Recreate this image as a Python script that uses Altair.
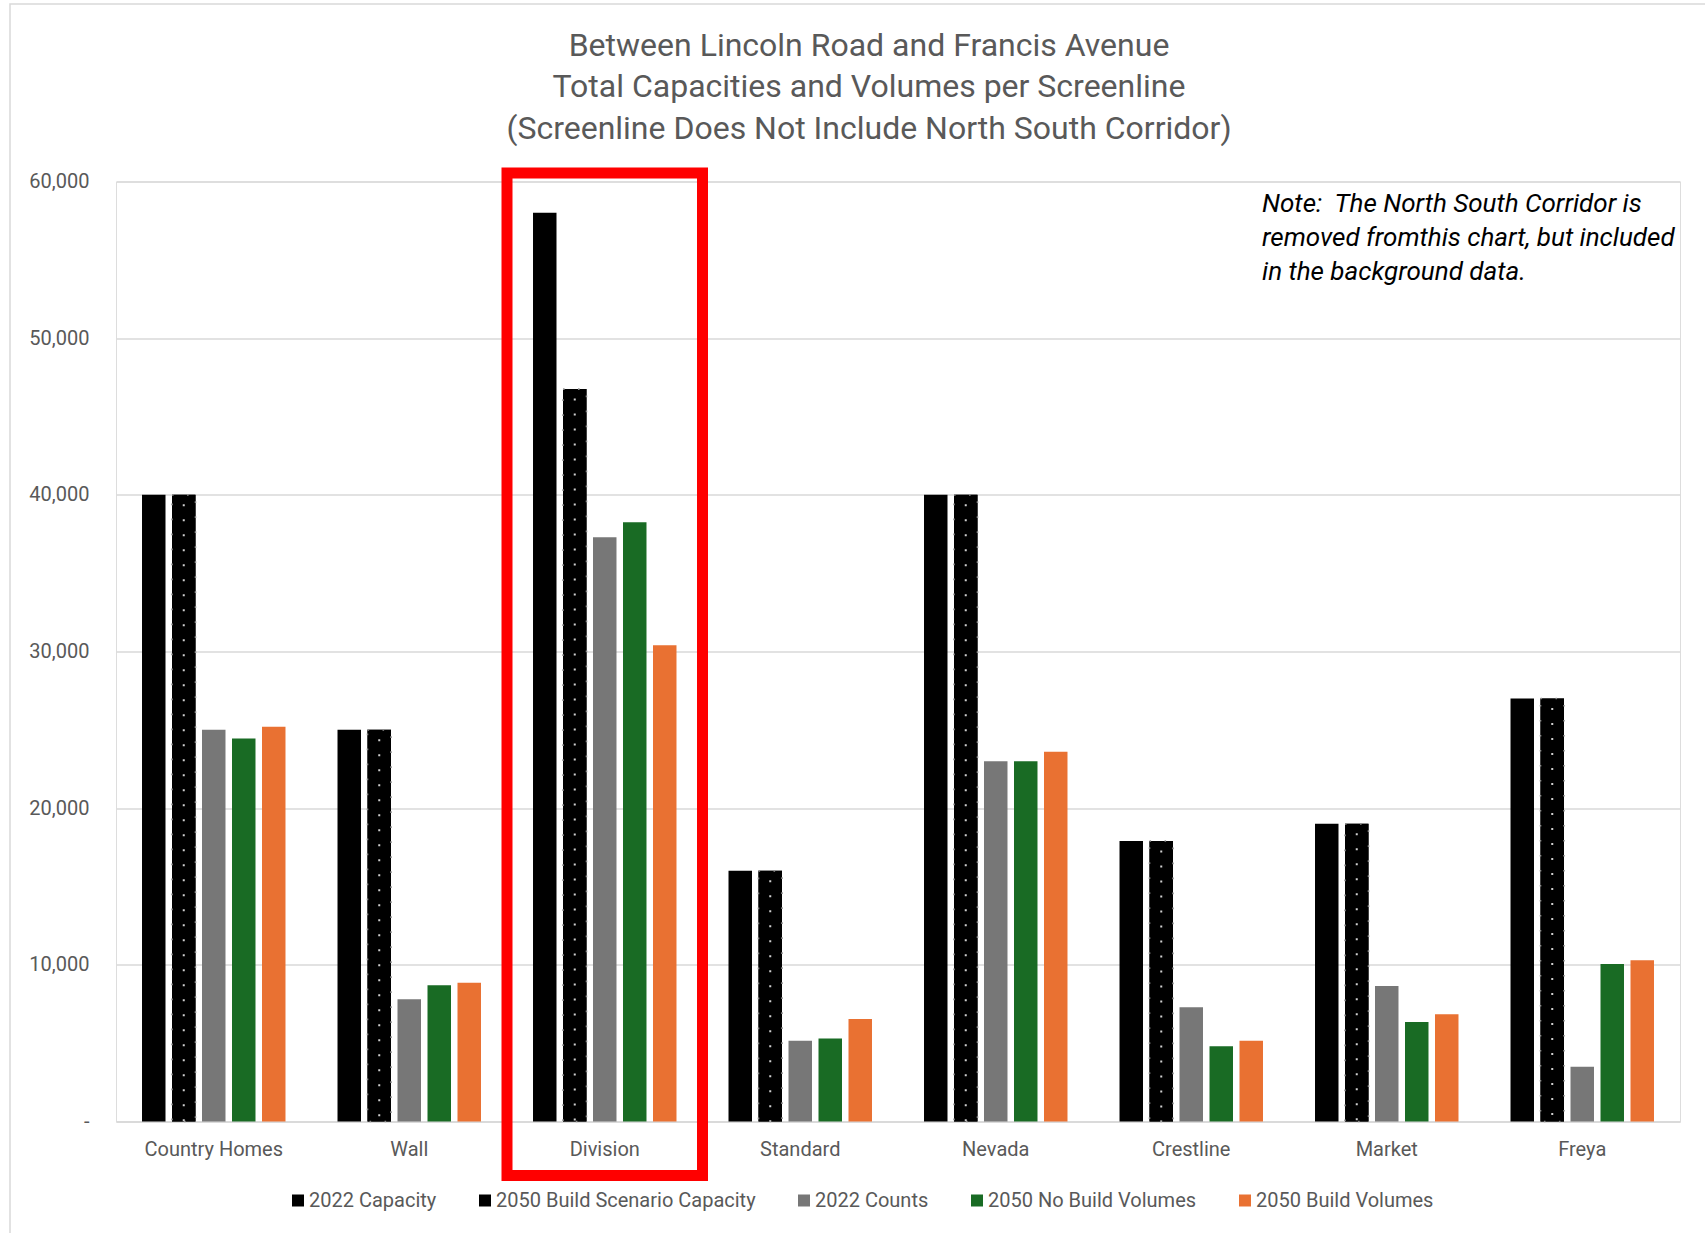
import altair as alt
import pandas as pd

# ---------------- data ----------------
categories = ["Country Homes", "Wall", "Division", "Standard", "Nevada", "Crestline", "Market", "Freya"]
series_names = ["2022 Capacity", "2050 Build Scenario Capacity", "2022 Counts",
                "2050 No Build Volumes", "2050 Build Volumes"]
cap_2022 = [40000, 25000, 58000, 16000, 40000, 17900, 19000, 27000]
cap_2050_build = [40000, 25000, 46750, 16000, 40000, 17900, 19000, 27000]
counts_2022 = [25000, 7800, 37300, 5150, 23000, 7300, 8650, 3500]
no_build_2050 = [24450, 8700, 38250, 5300, 23000, 4800, 6350, 10050]
build_2050 = [25200, 8850, 30400, 6550, 23600, 5150, 6850, 10300]
series_colors = ["#000000", "#000000", "#777777", "#196B24", "#E97132"]
y_ticks = [0, 10000, 20000, 30000, 40000, 50000, 60000]
title_lines = ["Between Lincoln Road and Francis Avenue",
               "Total Capacities and Volumes per Screenline",
               "(Screenline Does Not Include North South Corridor)"]
note_lines = ["Note:\u00a0 The North South Corridor is",
              "removed fromthis chart, but included",
              "in the background data."]
highlight_category = "Division"
highlight_top = 60550
highlight_bottom = -3450

series_values = [cap_2022, cap_2050_build, counts_2022, no_build_2050, build_2050]
rows = []
for s, vals in zip(series_names, series_values):
    for c, v in zip(categories, vals):
        rows.append({"category": c, "series": s, "value": v})
df = pd.DataFrame(rows)
dots_df = df[df["series"] == series_names[1]]
hl_df = pd.DataFrame({"category": [highlight_category], "top": [highlight_top], "bottom": [highlight_bottom]})
note_df = pd.DataFrame({"note": ["\n".join(note_lines)]})
title_df = pd.DataFrame({"title": ["\n".join(title_lines)]})
frame_df = pd.DataFrame({"k": [0]})

FONT = "Roboto"
GREY_TXT = "#595959"
GRID = "#d9d9d9"

x_enc = alt.X("category:N", sort=categories,
              scale=alt.Scale(domain=categories, paddingInner=0, paddingOuter=0),
              axis=alt.Axis(title=None, labelAngle=0, labelFont=FONT, labelFontSize=20,
                            labelColor=GREY_TXT, ticks=False, domainColor=GRID, domainWidth=1.5,
                            labelPadding=18, grid=False))
y_enc = alt.Y("value:Q", scale=alt.Scale(domain=[0, 60000], nice=False),
              axis=alt.Axis(title=None, values=y_ticks, grid=True, gridColor=GRID, gridWidth=1.3,
                            domain=False, ticks=False, labelPadding=27, labelFont=FONT,
                            labelFontSize=20, labelColor=GREY_TXT,
                            labelExpr="datum.value == 0 ? '-\u2007' : format(datum.value, ',')"))
xoff_scale = alt.Scale(domain=series_names, paddingInner=0.217, paddingOuter=0.867)
xoff_enc = alt.XOffset("series:N", sort=series_names, scale=xoff_scale)

bars = alt.Chart(df).mark_bar().encode(
    x=x_enc,
    xOffset=xoff_enc,
    y=y_enc,
    color=alt.Color("series:N", sort=series_names,
                    scale=alt.Scale(domain=series_names, range=series_colors),
                    legend=alt.Legend(title=None, orient="none", legendX=172, legendY=1009,
                                      direction="horizontal", symbolType="square", symbolSize=144,
                                      symbolStrokeWidth=0, labelFont=FONT, labelFontSize=20,
                                      labelColor=GREY_TXT, columnPadding=38, labelOffset=1,
                                      labelLimit=500, padding=0)),
)

# dotted texture of the "2050 Build Scenario Capacity" bars: dashed outline + dashed centre rule
dots_edge = alt.Chart(dots_df).mark_bar(color="#000000", stroke="#8f8f8f", strokeWidth=1.6,
                                        strokeDash=[1.6, 13.4]).encode(
    x=alt.X("category:N", sort=categories),
    xOffset=xoff_enc,
    y=alt.Y("value:Q"),
)
dots_c = alt.Chart(dots_df).mark_rule(strokeWidth=2, strokeDash=[2, 13], strokeDashOffset=-9.5,
                                      color="#cfcfcf").encode(
    x=alt.X("category:N", sort=categories),
    xOffset=xoff_enc,
    y=alt.Y("value:Q"),
    y2=alt.datum(0),
)

box = alt.Chart(hl_df).mark_rect(fillOpacity=0, stroke="#FF0000", strokeWidth=11).encode(
    x=alt.X("category:N", sort=categories),
    y=alt.Y("top:Q"),
    y2=alt.Y2("bottom:Q"),
)

note = alt.Chart(note_df).mark_text(align="left", baseline="alphabetic", font=FONT, fontSize=26,
                                     fontStyle="italic", color="#000000", lineBreak="\n",
                                     lineHeight=34).encode(
    x=alt.value(1146), y=alt.value(30.5), text="note:N")

title = alt.Chart(title_df).mark_text(align="center", baseline="alphabetic", font=FONT, fontSize=32,
                                       color=GREY_TXT, lineBreak="\n", lineHeight=41.5).encode(
    x=alt.value(753), y=alt.value(-126), text="title:N")

frame = alt.Chart(frame_df).mark_rect(fillOpacity=0, stroke=GRID, strokeWidth=1.5).encode(
    x=alt.value(-106), x2=alt.value(1700), y=alt.value(-177.5), y2=alt.value(1300))

chart = alt.layer(frame, bars, dots_edge, dots_c, box, note, title).properties(
    width=1564, height=940,
    autosize=alt.AutoSizeParams(type="none"),
    padding={"left": 116, "top": 181.5, "right": 25, "bottom": 111.5},
).configure_view(stroke=None).configure(background="white")

chart.save("out.html", embed_options={"renderer": "svg", "actions": False})
